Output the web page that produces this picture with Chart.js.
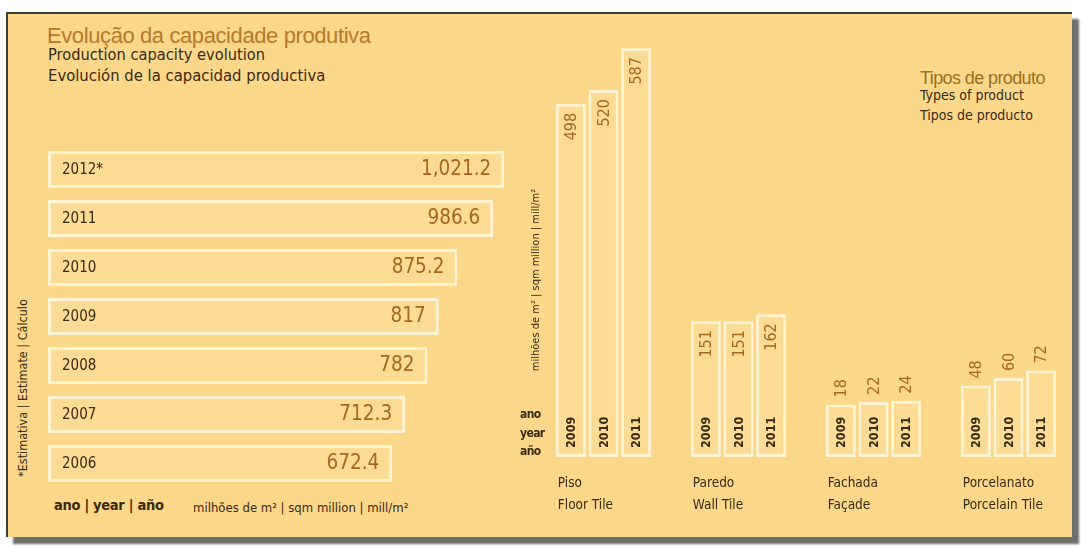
<!DOCTYPE html>
<html>
<head>
<meta charset="utf-8">
<script src="https://cdn.jsdelivr.net/npm/chart.js@4.4.1/dist/chart.umd.min.js"></script>
<style>
  html, body { margin:0; padding:0; background:#fff; }
  body { width:1083px; height:547px; position:relative; overflow:hidden; }
  #panel { position:absolute; left:6px; top:12px; width:1064px; height:523px;
           background:#FBD78A; border-left:2px solid #3c3c3c; border-top:2px solid #3c3c3c;
           box-shadow:7px 7px 2px rgba(95,95,95,0.9); }
  .t { position:absolute; white-space:nowrap; line-height:1;
       font-family:'Liberation Sans Narrow','DejaVu Sans Condensed','Arial Narrow',sans-serif;
       color:#3a2a12; }
  .wide { font-family:'Liberation Sans','Arial',sans-serif; }
  .rot { transform:translate(-50%,-50%) rotate(-90deg); }
  .box { position:absolute; }
</style>
</head>
<body>
<div id="panel"></div>

<div class="t wide" style="left:47px;top:25px;font-size:22px;color:#B57A2C;letter-spacing:-0.4px">Evolução da capacidade produtiva</div>
<div class="t" style="left:48px;top:47px;font-size:16.3px">Production capacity evolution</div>
<div class="t" style="left:48px;top:68px;font-size:16.5px">Evolución de la capacidad productiva</div>

<div class="t wide" style="left:920px;top:69px;font-size:18px;color:#9A7024;letter-spacing:-0.6px">Tipos de produto</div>
<div class="t" style="left:920px;top:88px;font-size:14px">Types of product</div>
<div class="t" style="left:920px;top:108px;font-size:14px">Tipos de producto</div>

<div class="box" style="left:48px;top:145px"><canvas id="capChart" width="480" height="343"></canvas></div>
<div class="box" style="left:536px;top:40px"><canvas id="typeChart" width="540" height="490"></canvas></div>

<div class="t rot" style="left:23px;top:388px;font-size:12.5px">*Estimativa | Estimate | Cálculo</div>
<div class="t rot" style="left:535px;top:280px;font-size:11px">milhões de m² | sqm million | mill/m²</div>
<div class="t" style="left:520px;top:405px;font-size:12px;font-weight:bold;line-height:18.5px;letter-spacing:-0.6px">ano<br>year<br>año</div>

<div class="t" style="left:54px;top:498px;font-size:14.5px;font-weight:bold;letter-spacing:-0.3px">ano | year | año</div>
<div class="t" style="left:193px;top:501px;font-size:13px">milhões de m² | sqm million | mill/m²</div>

<script>
// capacidade produtiva (milhões de m²), de cima para baixo
const capYears = ['2012*', '2011', '2010', '2009', '2008', '2007', '2006'];
const capValues = [1021.2, 986.6, 875.2, 817, 782, 712.3, 672.4];

// tipos de produto
const productLabels = [['Piso', 'Floor Tile'], ['Paredo', 'Wall Tile'], ['Fachada', 'Façade'], ['Porcelanato', 'Porcelain Tile']];
const typeYears = ['2009', '2010', '2011'];
const values2009 = [498, 151, 18, 48];
const values2010 = [520, 151, 22, 60];
const values2011 = [587, 162, 24, 72];

const NARROW = "'Liberation Sans Narrow', 'DejaVu Sans Condensed', 'Arial Narrow', sans-serif";
const DARK = '#3a2a12';
const ORANGE = '#A5681F';
const BAR_FILL = '#FCDB95';
const BAR_EDGE = '#FFF4D2';

Chart.defaults.font.family = NARROW;
Chart.defaults.animation = false;

/* ===== barras horizontais ===== */
const capLabels = {
  id: 'capLabels',
  afterDatasetsDraw(chart) {
    const ctx = chart.ctx;
    chart.getDatasetMeta(0).data.forEach((bar, i) => {
      ctx.save();
      ctx.textBaseline = 'middle';
      ctx.fillStyle = DARK;
      ctx.font = '15px ' + NARROW;
      ctx.textAlign = 'left';
      ctx.fillText(capYears[i], bar.base + 14, bar.y + 1);
      ctx.fillStyle = ORANGE;
      ctx.font = '20.5px ' + NARROW;
      ctx.textAlign = 'right';
      ctx.fillText(capValues[i].toLocaleString('en-US'), bar.x - 13, bar.y);
      ctx.restore();
    });
  }
};

new Chart(document.getElementById('capChart'), {
  type: 'bar',
  data: {
    labels: capYears,
    datasets: [{ data: capValues, base: -400, backgroundColor: BAR_FILL, borderColor: BAR_EDGE,
                 borderWidth: 3, borderSkipped: false, categoryPercentage: 1, barPercentage: 0.755 }]
  },
  options: {
    indexAxis: 'y', responsive: false,
    layout: { padding: 0 },
    plugins: { legend: { display: false }, tooltip: { enabled: false } },
    scales: {
      x: { display: false, min: -400, max: 1095 },
      y: { display: false }
    }
  },
  plugins: [capLabels]
});

/* ===== colunas por tipo ===== */
const typeLabels = {
  id: 'typeLabels',
  afterDatasetsDraw(chart) {
    const ctx = chart.ctx;
    chart.data.datasets.forEach((ds, d) => {
      chart.getDatasetMeta(d).data.forEach((bar, i) => {
        // ano, na base da coluna
        ctx.save();
        ctx.translate(bar.x + 1, bar.base - 9);
        ctx.rotate(-Math.PI / 2);
        ctx.textBaseline = 'middle';
        ctx.textAlign = 'left';
        ctx.fillStyle = DARK;
        ctx.font = 'bold 12.5px ' + NARROW;
        ctx.fillText(typeYears[d], 0, 0);
        ctx.restore();
        // valor, dentro do topo ou acima da coluna
        ctx.save();
        const inside = bar.base - bar.y > 110;
        ctx.translate(bar.x + 1, inside ? bar.y + 9 : bar.y - 7);
        ctx.rotate(-Math.PI / 2);
        ctx.textBaseline = 'middle';
        ctx.textAlign = inside ? 'right' : 'left';
        ctx.fillStyle = ORANGE;
        ctx.font = '16px ' + NARROW;
        ctx.fillText(String(ds.data[i]), 0, 0);
        ctx.restore();
      });
    });
    // nomes dos produtos
    const first = chart.getDatasetMeta(0).data;
    ctx.save();
    ctx.fillStyle = DARK;
    ctx.font = '13.5px ' + NARROW;
    ctx.textBaseline = 'middle';
    ctx.textAlign = 'left';
    first.forEach((bar, i) => {
      const x = bar.x - bar.width / 2 + 2;
      productLabels[i].forEach((line, k) => ctx.fillText(line, x, bar.base + 26 + k * 22));
    });
    ctx.restore();
  }
};

const mkSet = (vals) => ({ data: vals, base: -66, backgroundColor: BAR_FILL, borderColor: BAR_EDGE,
  borderWidth: 3, borderSkipped: false, categoryPercentage: 0.726, barPercentage: 0.92 });

new Chart(document.getElementById('typeChart'), {
  type: 'bar',
  data: {
    labels: productLabels.map(l => l.join(' ')),
    datasets: [mkSet(values2009), mkSet(values2010), mkSet(values2011)]
  },
  options: {
    responsive: false,
    layout: { padding: { top: 0, left: 0, right: 0, bottom: 73 } },
    plugins: { legend: { display: false }, tooltip: { enabled: false } },
    scales: {
      x: { display: false },
      y: { display: false, min: -66, max: 600 }
    }
  },
  plugins: [typeLabels]
});
</script>
</body>
</html>
